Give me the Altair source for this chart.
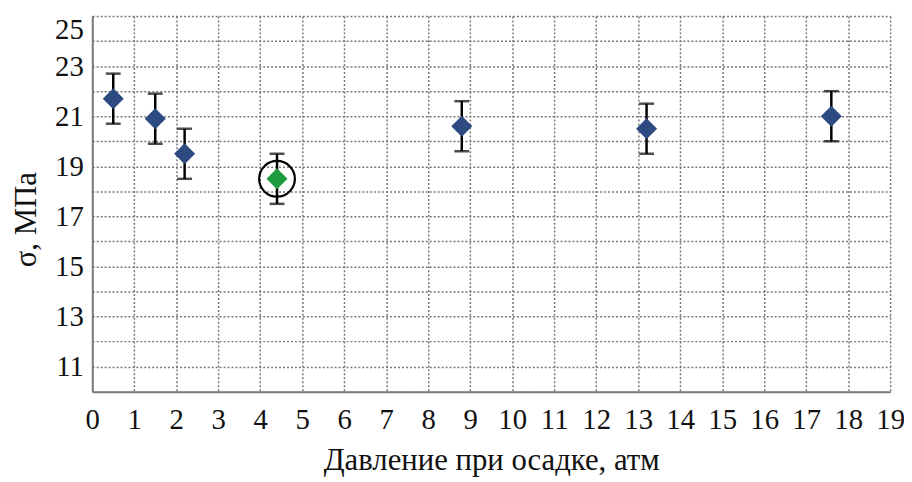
import altair as alt
import pandas as pd

pressure = [0.5, 1.5, 2.2, 4.4, 8.8, 13.2, 17.6]
sigma = [21.7, 20.9, 19.5, 18.5, 20.6, 20.5, 21.0]
err = [1.0, 1.0, 1.0, 1.0, 1.0, 1.0, 1.0]
highlight = [False, False, False, True, False, False, False]

x_ticks = list(range(0, 20))
y_ticks = list(range(10, 26))

df = pd.DataFrame({
    "p": pressure,
    "s": sigma,
    "lo": [s - e for s, e in zip(sigma, err)],
    "hi": [s + e for s, e in zip(sigma, err)],
    "hl": highlight,
})

FONT = "Liberation Serif"

xscale = alt.Scale(domain=[0, 19], nice=False, zero=False)
yscale = alt.Scale(domain=[10, 25], nice=False, zero=False)

xaxis = alt.Axis(values=x_ticks, title="Давление при осадке, атм",
                 labelPadding=14, titlePadding=12, labelFlush=False,
                 labelFont=FONT, labelFontSize=29)
yaxis = alt.Axis(values=y_ticks, title="σ, МПа",
                 labelExpr="datum.value % 2 == 1 ? datum.label : ''",
                 labelPadding=9, titlePadding=12, labelFlush=True, titleY=205,
                 labelFont=FONT, labelFontSize=29)

base = alt.Chart(df)

X = alt.X("p:Q", scale=xscale, axis=xaxis)

rules = base.mark_rule(color="black", strokeWidth=2.5).encode(
    x=X, y=alt.Y("lo:Q", scale=yscale, axis=yaxis), y2="hi:Q")
cap_hi = base.mark_tick(color="black", orient="horizontal", size=15, thickness=2.5).encode(
    x=X, y=alt.Y("hi:Q", scale=yscale, axis=yaxis))
cap_lo = base.mark_tick(color="black", orient="horizontal", size=15, thickness=2.5).encode(
    x=X, y=alt.Y("lo:Q", scale=yscale, axis=yaxis))
points = base.mark_point(shape="diamond", filled=True, size=450, opacity=1).encode(
    x=X, y=alt.Y("s:Q", scale=yscale, axis=yaxis),
    color=alt.condition("datum.hl", alt.value("#1e9a3e"), alt.value("#2d4b80")))
ring = base.transform_filter("datum.hl").mark_point(
    shape="circle", filled=False, size=1300, stroke="black", strokeWidth=2.2, opacity=1).encode(
    x=X, y=alt.Y("s:Q", scale=yscale, axis=yaxis))

chart = alt.layer(rules, cap_hi, cap_lo, points, ring).properties(
    width=805, height=379,
    autosize=alt.AutoSizeParams(type="none"),
    padding={"left": 85, "top": 6, "right": 14, "bottom": 86},
    background="white",
).configure(font=FONT).configure_view(strokeWidth=0).configure_axis(
    grid=True, gridDash=[2, 2], gridColor="#777777", gridWidth=1.5,
    domainColor="#7a7a7a", domainWidth=2, ticks=False,
    labelFont=FONT, labelFontSize=29, labelColor="#111111",
    titleFont=FONT, titleFontSize=31, titleFontWeight="normal", titleColor="#111111",
)

chart.save("out.html", embed_options={"renderer": "svg", "actions": False})
